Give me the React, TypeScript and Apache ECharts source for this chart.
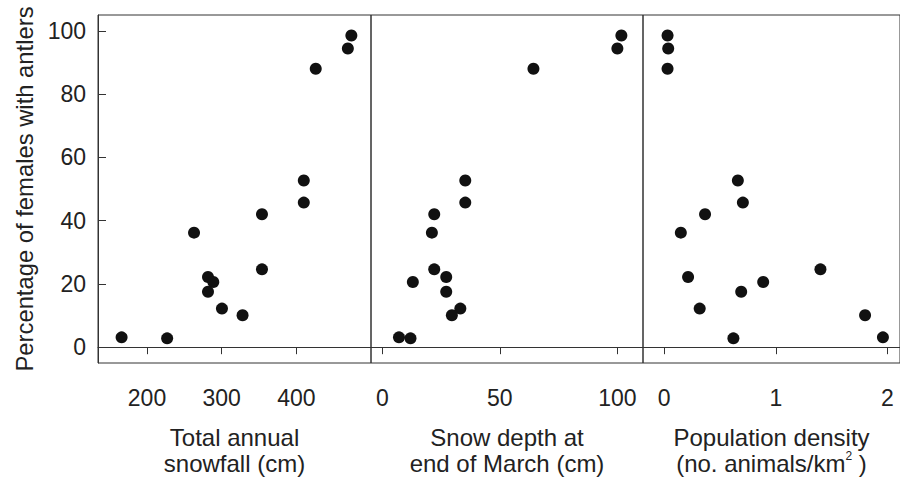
import React, { useEffect, useRef } from "react";
import * as echarts from "echarts";

// Percentage of females with antlers, one value per site
const pctFemalesAntlers = [98.5, 94.4, 88, 52.7, 45.7, 42, 36.2, 24.6, 22.2, 20.6, 17.5, 12.2, 10.1, 3.1, 2.8];
// Total annual snowfall (cm)
const snowfall = [473.7, 469, 426, 410, 410, 354, 263, 354, 281.7, 288.8, 281.7, 300.4, 328, 166, 227];
// Snow depth at end of March (cm)
const snowDepth = [101.7, 100, 64.3, 35.3, 35.3, 22.1, 21.1, 22.1, 27.2, 13, 27.2, 33.2, 29.6, 7.1, 12];
// Population density (no. animals/km2)
const popDensity = [0.03, 0.036, 0.03, 0.66, 0.705, 0.366, 0.149, 1.4, 0.214, 0.887, 0.69, 0.318, 1.8, 1.96, 0.62];

const yTicks = [0, 20, 40, 60, 80, 100];
const snowfallTicks = [200, 300, 400];
const depthTicks = [0, 50, 100];
const densityTicks = [0, 1, 2];

const FONT = "'Liberation Sans', Arial, sans-serif";
const TXT = "#222";
const LINE = "#333";

export default function App() {
  const ref = useRef<HTMLDivElement>(null);
  useEffect(() => {
    if (!ref.current) return;
    const chart = echarts.init(ref.current, undefined, { renderer: "svg" });
    const grid = (left: number, width: number) => ({
      left, width, top: 15, height: 355, show: true,
      borderColor: LINE, borderWidth: 1, backgroundColor: "transparent",
    });
    const xAxis = (gi: number, min: number, max: number, ticks: number[], name: string) => ({
      type: "value", gridIndex: gi, min, max,
      name, nameLocation: "middle", nameGap: 61,
      nameTextStyle: {
        fontFamily: FONT, fontSize: 24, color: TXT, lineHeight: 26,
        rich: { sup: { fontSize: 12, verticalAlign: "top", lineHeight: 26, padding: [0, 0, 12, 0], fontFamily: FONT, color: TXT } },
      },
      axisLine: { show: true, lineStyle: { color: LINE, width: 1 } },
      axisTick: { show: true, inside: false, length: 7, customValues: ticks, lineStyle: { color: LINE } },
      axisLabel: { show: true, customValues: ticks, margin: 23, fontFamily: FONT, fontSize: 23, color: TXT },
      splitLine: { show: false },
    });
    const yAxis = (gi: number, show: boolean) => ({
      type: "value", gridIndex: gi, min: -5, max: 105,
      name: show ? "Percentage of females with antlers" : "",
      nameLocation: "middle", nameGap: 62, nameRotate: 90,
      nameTextStyle: { fontFamily: FONT, fontSize: 23.8, color: TXT },
      axisLine: { show: show, lineStyle: { color: LINE } },
      axisTick: { show: show, inside: true, length: 8, customValues: yTicks, lineStyle: { color: LINE } },
      axisLabel: { show: show, customValues: yTicks, margin: 12, fontFamily: FONT, fontSize: 23, color: TXT },
      splitLine: { show: false },
    });
    const scatter = (gi: number, xs: number[]) => ({
      type: "scatter", xAxisIndex: gi, yAxisIndex: gi,
      symbol: "circle", symbolSize: 12,
      itemStyle: { color: "#111", opacity: 1 },
      data: xs.map((x, i) => [x, pctFemalesAntlers[i]]),
    });
    chart.setOption({
      animation: false,
      backgroundColor: "#fff",
      grid: [grid(98, 273), grid(371, 272), grid(643, 258)],
      xAxis: [
        xAxis(0, 134.4, 500, snowfallTicks, "Total annual\nsnowfall (cm)"),
        xAxis(1, -4.8, 110.9, depthTicks, "Snow depth at\nend of March (cm)"),
        xAxis(2, -0.19, 2.113, densityTicks, "Population density\n(no. animals/km{sup|2} )"),
      ],
      yAxis: [yAxis(0, true), yAxis(1, false), yAxis(2, false)],
      series: [scatter(0, snowfall), scatter(1, snowDepth), scatter(2, popDensity)],
    });
    return () => chart.dispose();
  }, []);
  return <div ref={ref} style={{ position: "fixed", left: 0, top: 0, width: 900, height: 481 }} />;
}
